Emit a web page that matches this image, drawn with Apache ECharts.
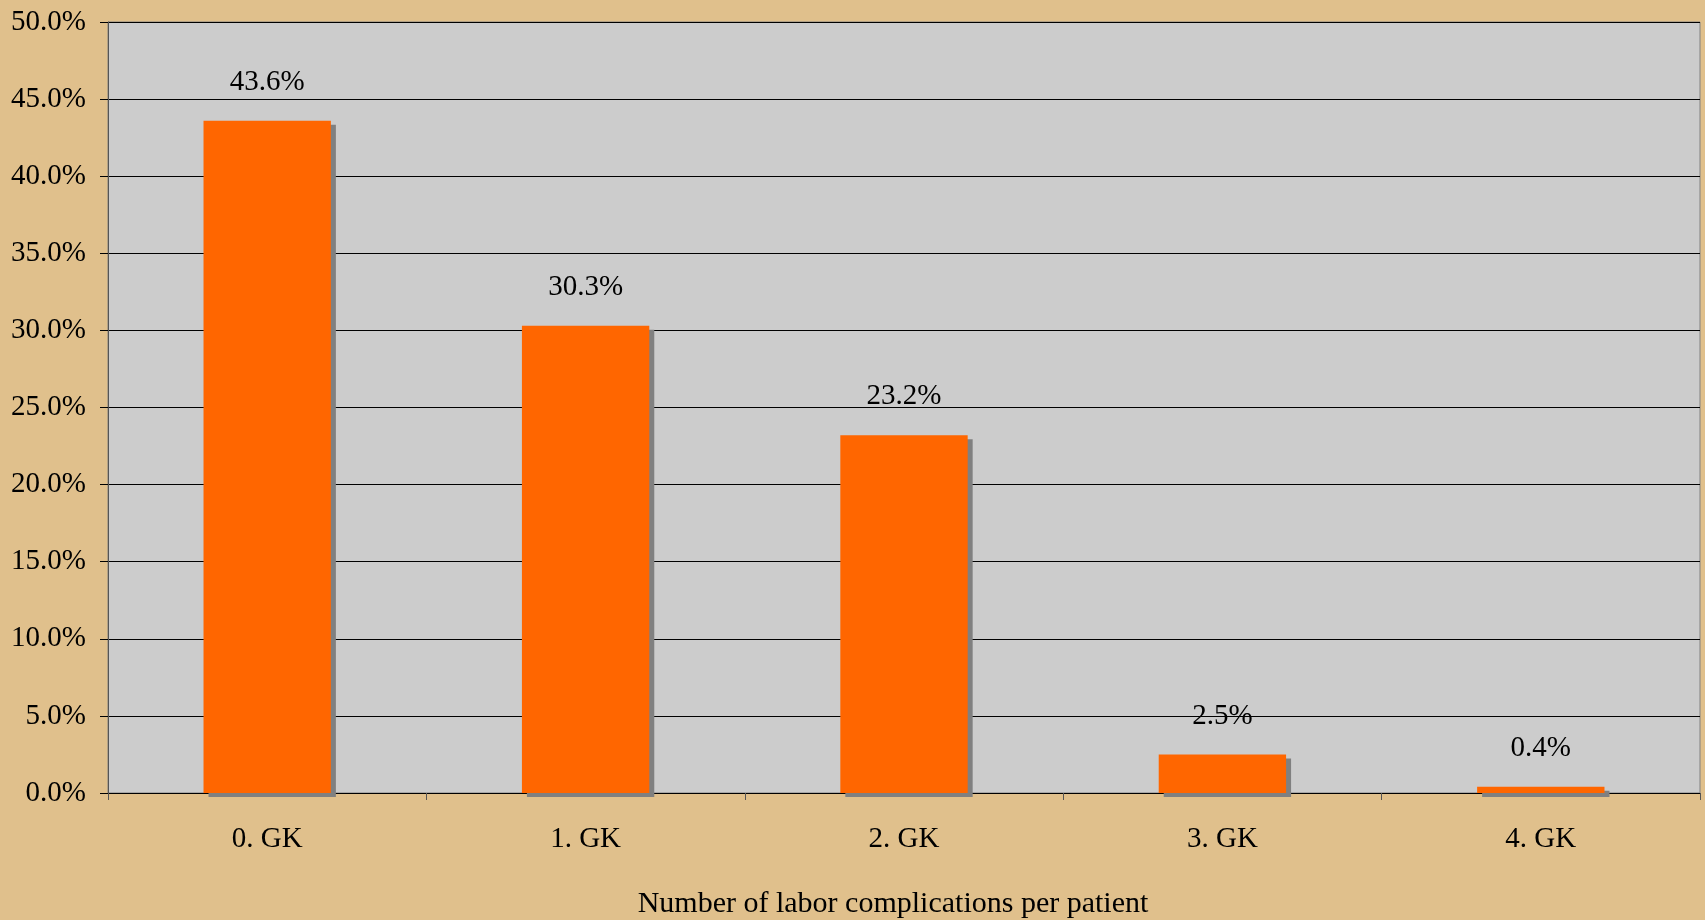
<!DOCTYPE html>
<html>
<head>
<meta charset="utf-8">
<script src="https://cdn.jsdelivr.net/npm/echarts@6/dist/echarts.min.js"></script>
<style>
  html, body { margin: 0; padding: 0; background: #e0c08c; }
  #chart { width: 1705px; height: 920px; }
</style>
</head>
<body>
<div id="chart"></div>
<script>
var categories = ['0. GK', '1. GK', '2. GK', '3. GK', '4. GK'];
var percents = [43.6, 30.3, 23.2, 2.5, 0.4];

var myChart = echarts.init(document.getElementById('chart'));
var font = 'Liberation Serif';

var option = {
    backgroundColor: '#e0c08c',
    animation: false,
    grid: {
        left: 108,
        right: 5,
        top: 22,
        bottom: 127,
        outerBoundsMode: 'none',
        show: true,
        backgroundColor: '#cccccc',
        borderColor: '#808080',
        borderWidth: 1
    },
    xAxis: {
        type: 'category',
        data: categories,
        name: 'Number of labor complications per patient',
        nameLocation: 'middle',
        nameGap: 96,
        nameTextStyle: { color: '#000', fontFamily: font, fontSize: 30, padding: [0, 22, 0, 0] },
        axisLine: { lineStyle: { color: '#000', width: 1 } },
        axisTick: { show: true, length: 7, lineStyle: { color: '#555' } },
        axisLabel: { color: '#000', fontFamily: font, fontSize: 29, margin: 32 }
    },
    yAxis: {
        type: 'value',
        min: 0,
        max: 50,
        interval: 5,
        axisLine: { show: true, lineStyle: { color: '#555', width: 1 } },
        axisTick: { show: true, length: 8, lineStyle: { color: '#000' } },
        splitLine: { show: true, lineStyle: { color: '#000', width: 1 } },
        axisLabel: {
            color: '#000', fontFamily: font, fontSize: 29, margin: 22,
            formatter: function (v) { return v.toFixed(1) + '%'; }
        }
    },
    series: [{
        type: 'bar',
        data: percents,
        barWidth: '40%',
        itemStyle: {
            color: '#ff6600',
            shadowColor: '#808080',
            shadowOffsetX: 5,
            shadowOffsetY: 4,
            shadowBlur: 0
        },
        label: {
            show: true,
            position: 'top',
            distance: 24,
            color: '#000',
            fontFamily: font,
            fontSize: 29,
            formatter: function (p) { return p.value.toFixed(1) + '%'; }
        }
    }]
};

myChart.setOption(option);
</script>
</body>
</html>
